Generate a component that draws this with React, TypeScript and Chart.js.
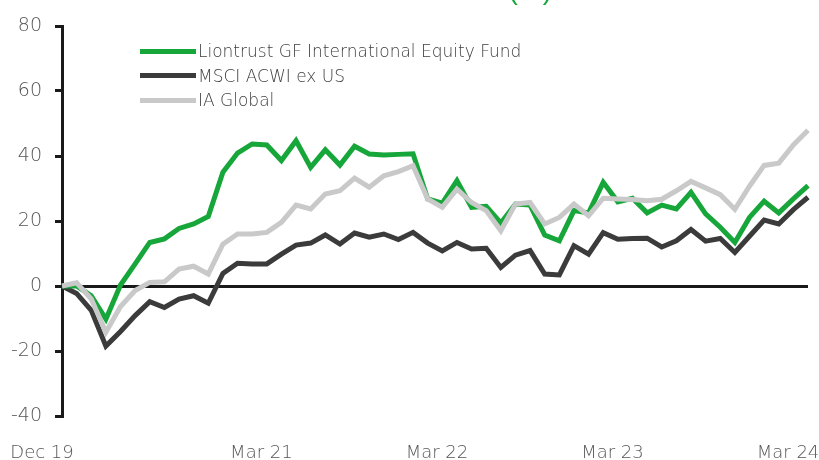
import React, { useEffect, useRef } from 'react';
import { Chart, registerables } from 'chart.js';

Chart.register(...registerables);

const months = [
  'Dec 19', 'Jan 20', 'Feb 20', 'Mar 20', 'Apr 20', 'May 20', 'Jun 20', 'Jul 20', 'Aug 20', 'Sep 20', 'Oct 20', 'Nov 20', 'Dec 20',
  'Jan 21', 'Feb 21', 'Mar 21', 'Apr 21', 'May 21', 'Jun 21', 'Jul 21', 'Aug 21', 'Sep 21', 'Oct 21', 'Nov 21', 'Dec 21',
  'Jan 22', 'Feb 22', 'Mar 22', 'Apr 22', 'May 22', 'Jun 22', 'Jul 22', 'Aug 22', 'Sep 22', 'Oct 22', 'Nov 22', 'Dec 22',
  'Jan 23', 'Feb 23', 'Mar 23', 'Apr 23', 'May 23', 'Jun 23', 'Jul 23', 'Aug 23', 'Sep 23', 'Oct 23', 'Nov 23', 'Dec 23',
  'Jan 24', 'Feb 24', 'Mar 24',
];

const xTickLabels = ['Dec 19', 'Mar 21', 'Mar 22', 'Mar 23', 'Mar 24'];

const liontrust = [
  0, 0, -3, -10.2, 0.3, 6.8, 13.4, 14.5, 17.7, 19.1, 21.4, 35.0, 40.9,
  43.7, 43.4, 38.6, 44.7, 36.5, 41.9, 37.2, 43.0, 40.6, 40.3, 40.5, 40.7,
  26.8, 25.5, 32.4, 24.2, 24.5, 19.4, 25.2, 24.9, 15.7, 13.9, 23.2, 22.5,
  31.9, 25.9, 27.0, 22.5, 24.9, 23.7, 28.8, 22.2, 18.1, 13.4, 21.1, 26.1,
  22.5, 26.8, 30.9,
];

const msci = [
  0, -2.3, -7.5, -18.5, -14.0, -9.1, -4.8, -6.6, -4.0, -3.0, -5.3, 3.9, 7.0,
  6.8, 6.8, 9.8, 12.6, 13.2, 15.7, 12.9, 16.3, 15.0, 16.0, 14.3, 16.5,
  13.2, 10.8, 13.4, 11.4, 11.6, 5.7, 9.5, 10.9, 3.7, 3.4, 12.4, 9.8,
  16.4, 14.4, 14.6, 14.7, 12.0, 13.9, 17.4, 13.8, 14.6, 10.3, 15.3, 20.3,
  19.1, 23.5, 27.3,
];

const iaGlobal = [
  0, 1.0, -4.0, -14.2, -6.3, -1.4, 1.1, 1.3, 5.2, 6.1, 3.7, 12.9, 16.0,
  16.0, 16.5, 19.6, 24.9, 23.7, 28.3, 29.3, 33.2, 30.4, 33.9, 35.2, 37.0,
  26.8, 24.2, 29.8, 25.7, 23.2, 17.0, 25.2, 25.7, 19.1, 21.1, 25.2, 21.6,
  27.0, 26.8, 26.6, 26.2, 26.7, 29.3, 32.2, 30.2, 28.1, 23.6, 30.7, 37.1,
  37.8, 43.4, 47.9,
];

const seriesNames = ['Liontrust GF International Equity Fund', 'MSCI ACWI ex US', 'IA Global'];
const titleText = '(%)';

const GREEN = '#16a63a';
const DARK = '#3b3b3b';
const GRAY = '#c9c9c9';
const AXIS = '#1a1a1a';
const TEXT = '#555555';
const FONT = "'DejaVu Sans', sans-serif";

const titlePlugin = {
  id: 'clippedTitle',
  afterDraw(chart: any) {
    const ctx = chart.ctx;
    ctx.save();
    ctx.font = `28px 'Liberation Sans', sans-serif`;
    ctx.fillStyle = GREEN;
    ctx.textAlign = 'right';
    ctx.textBaseline = 'alphabetic';
    ctx.fillText(titleText, 552, -1);
    ctx.restore();
  },
};

export default function App() {
  const ref = useRef<HTMLCanvasElement>(null);

  useEffect(() => {
    const common = { borderWidth: 5, pointRadius: 0, tension: 0, fill: false, borderJoinStyle: 'miter' as const };
    const chart = new Chart(ref.current as HTMLCanvasElement, {
      type: 'line',
      data: {
        labels: months,
        datasets: [
          { ...common, label: seriesNames[0], data: liontrust, borderColor: GREEN, backgroundColor: GREEN, order: 1 },
          { ...common, label: seriesNames[1], data: msci, borderColor: DARK, backgroundColor: DARK, order: 2 },
          { ...common, label: seriesNames[2], data: iaGlobal, borderColor: GRAY, backgroundColor: GRAY, order: 0 },
        ],
      },
      options: {
        animation: false,
        responsive: false,
        maintainAspectRatio: false,
        layout: { padding: { top: 26, right: 11, bottom: 0, left: 0 } },
        plugins: { legend: { display: false }, tooltip: { enabled: false } },
        scales: {
          x: {
            grid: { display: false },
            border: { display: false },
            ticks: {
              autoSkip: false,
              maxRotation: 0,
              minRotation: 0,
              padding: 19,
              labelOffset: -20,
              color: TEXT,
              font: { family: FONT, size: 18, weight: '300' },
              callback: (_v: any, i: number) => (xTickLabels.includes(months[i]) ? months[i] : ''),
            },
            afterFit: (s: any) => {
              s.paddingLeft = 0;
              s.paddingRight = 0;
              s.height = 44;
            },
          },
          y: {
            min: -40,
            max: 80,
            ticks: { stepSize: 20, padding: 13, color: TEXT, font: { family: FONT, size: 19, weight: '300' } },
            grid: {
              drawOnChartArea: true,
              color: (c: any) => (c.tick && c.tick.value === 0 ? AXIS : 'rgba(0,0,0,0)'),
              lineWidth: 3,
              tickColor: AXIS,
              tickLength: 7,
              tickWidth: 3,
            },
            border: { display: true, color: AXIS, width: 3 },
            afterFit: (s: any) => {
              s.width = 62;
            },
          },
        },
      },
      plugins: [titlePlugin],
    });
    return () => chart.destroy();
  }, []);

  const legendColors = [GREEN, DARK, GRAY];

  return (
    <div style={{ position: 'fixed', left: 0, top: 0, width: 819, height: 460, background: '#fff', overflow: 'hidden' }}>
      <canvas ref={ref} width={819} height={460} style={{ display: 'block' }} />
      <div
        style={{
          position: 'absolute',
          left: 140,
          top: 39,
          fontFamily: FONT,
          fontSize: 17,
          fontWeight: 300,
          color: '#404040',
          lineHeight: '24.5px',
        }}
      >
        {seriesNames.map((name, i) => (
          <div key={name} style={{ display: 'flex', alignItems: 'center', height: 24.5, whiteSpace: 'nowrap' }}>
            <span style={{ display: 'inline-block', width: 56, height: 5, background: legendColors[i], marginRight: 2 }} />
            <span>{name}</span>
          </div>
        ))}
      </div>
    </div>
  );
}
